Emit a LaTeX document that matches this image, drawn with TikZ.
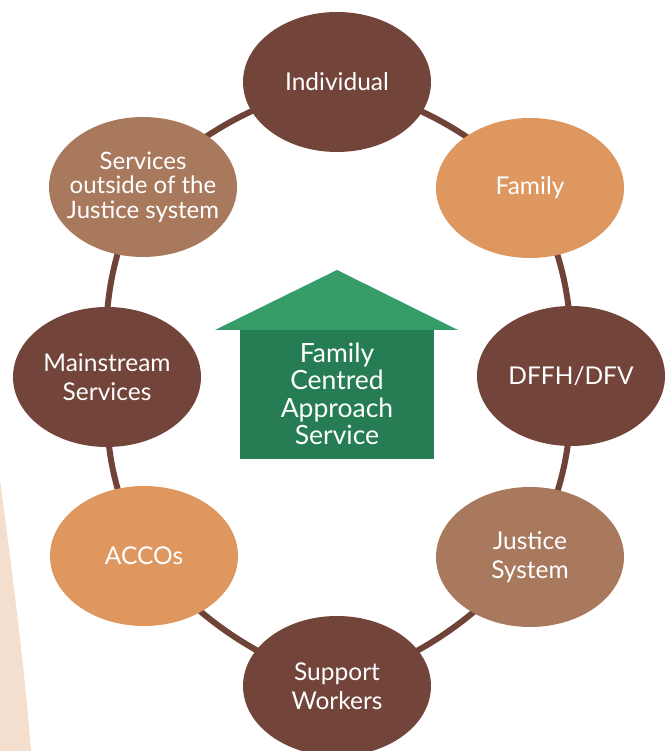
\documentclass[tikz,border=0pt]{standalone}
\usepackage{fontspec}
\setmainfont{Lato}
\usepackage{xcolor}
\usetikzlibrary{shapes.geometric,backgrounds}
\definecolor{ringbrown}{HTML}{72443A}
\definecolor{linkbrown}{HTML}{6F4338}
\definecolor{ringorange}{HTML}{DF9760}
\definecolor{ringtan}{HTML}{A9795D}
\definecolor{roofgreen}{HTML}{369C6A}
\definecolor{housegreen}{HTML}{267D53}
\definecolor{peach}{HTML}{F4DFCE}

\begin{document}
\begin{tikzpicture}[
    x=1pt, y=1pt,
    ringnode/.style={ellipse, minimum width=188pt, minimum height=140pt, inner sep=0,
        text=white, align=center, font=\fontsize{24.5}{29.5}\selectfont},
    darknode/.style={ringnode, fill=ringbrown},
    orangenode/.style={ringnode, fill=ringorange},
    tannode/.style={ringnode, fill=ringtan},
    ringlink/.style={draw=linkbrown, line width=6pt, bend left=14},
    housetext/.style={text=white, align=center, font=\fontsize{26.5}{27.3}\selectfont}]
\useasboundingbox (0,0) rectangle (669,751);

\fill[peach] (0,271) .. controls (12,180) and (25,80) .. (31,0) -- (0,0) -- cycle;

\node[darknode]   (individual) at (337,669) {Individual};
\node[orangenode] (family)     at (530,563) {Family};
\node[darknode]   (dffh)       at (571,375) {DFFH/DFV};
\node[tannode]    (justice)    at (530,194) {Justice\\System};
\node[darknode]   (support)    at (337,65)  {Support\\Workers};
\node[orangenode] (accos)      at (144,195) {ACCOs};
\node[darknode]   (mainstream) at (107,374) {Mainstream\\Services};
\node[tannode, inner xsep=-12pt, font=\fontsize{24}{24.5}\selectfont] (outside) at (143,564) {Services\\outside of the\\Justice system};

\fill[roofgreen] (215,421) -- (337,481) -- (458,421) -- cycle;
\fill[housegreen] (240,292) rectangle (434,421);
\node[housetext] (fcas) at (337,357) {Family\\Centred\\Approach\\Service};

\begin{scope}[on background layer]
\path[ringlink] (individual.center) to (family.center);
\path[ringlink] (family.center) to (dffh.center);
\path[ringlink] (dffh.center) to (justice.center);
\path[ringlink] (justice.center) to (support.center);
\path[ringlink] (support.center) to (accos.center);
\path[ringlink] (accos.center) to (mainstream.center);
\path[ringlink] (mainstream.center) to (outside.center);
\path[ringlink] (outside.center) to (individual.center);
\end{scope}

\end{tikzpicture}
\end{document}
